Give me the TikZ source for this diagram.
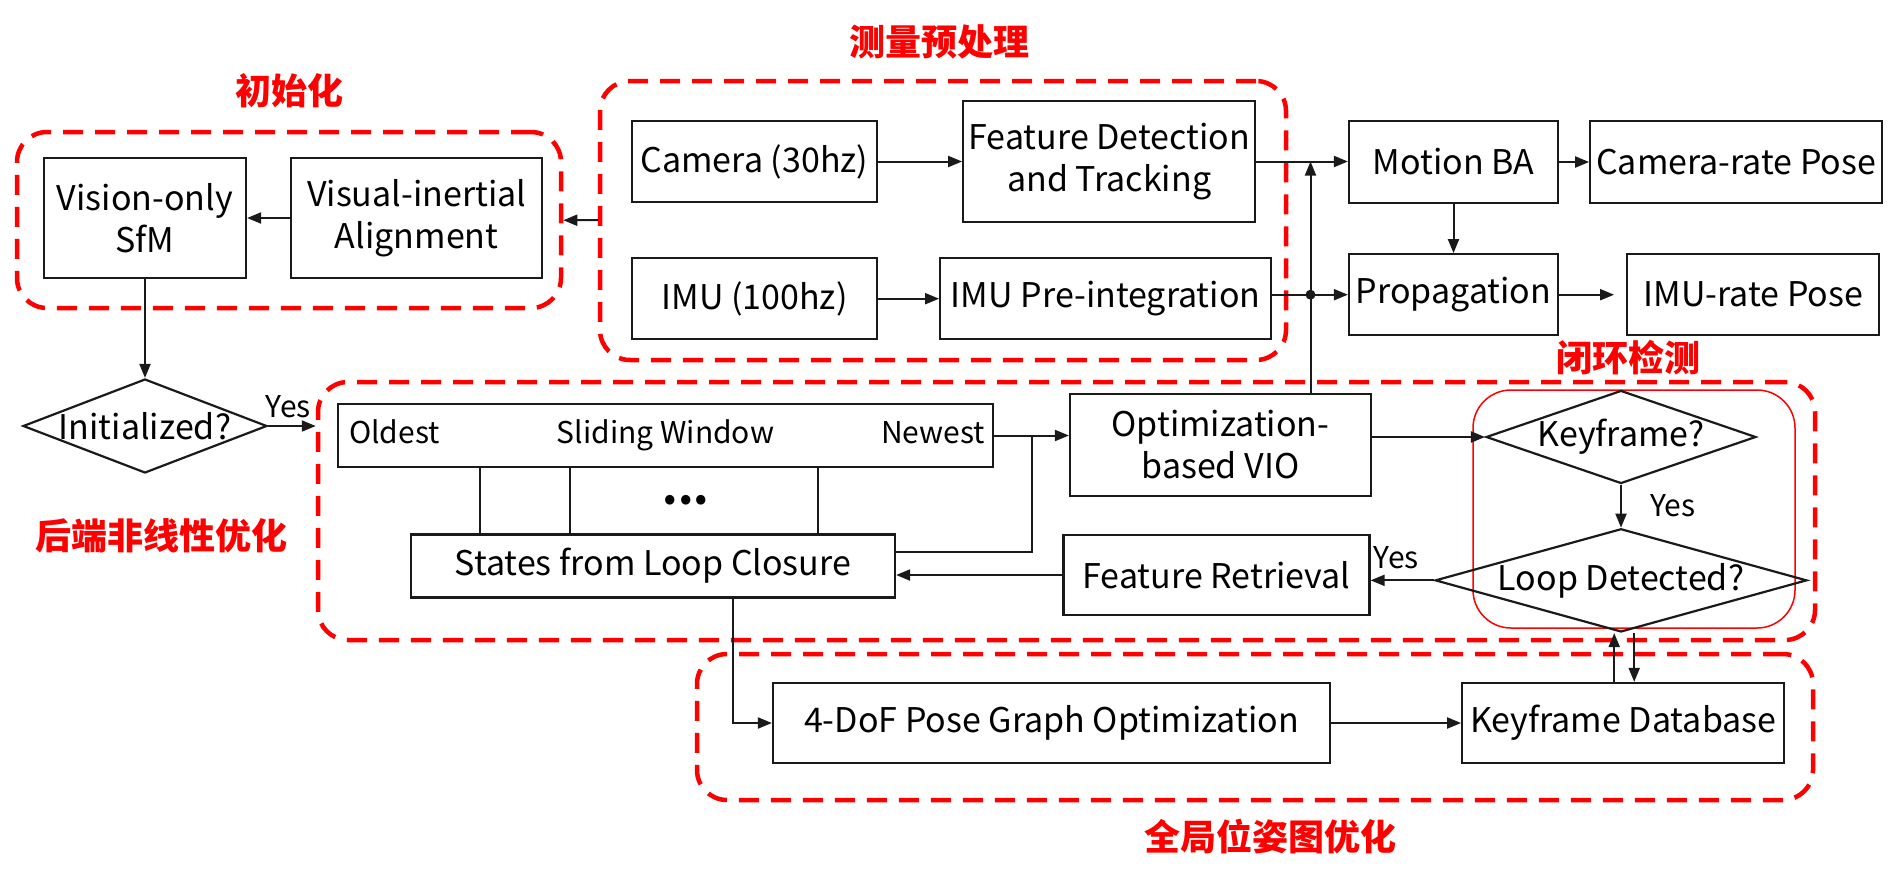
\documentclass[tikz,border=0pt]{standalone}
\usepackage{fontspec}
\usepackage{xcolor}
\usepackage{tikz}
\setmainfont{Noto Sans CJK SC}
\usetikzlibrary{shapes.geometric, arrows.meta, positioning, calc}
\definecolor{vinsred}{HTML}{FF0000}
\definecolor{vinsink}{HTML}{1A1A1A}

\begin{document}
\begin{tikzpicture}[
    x=1pt, y=-1pt,
    font=\fontsize{34}{42}\selectfont,
    box/.style={draw=vinsink, line width=2.2pt, align=center, inner sep=0pt},
    cond/.style={draw=vinsink, diamond, line width=2.2pt, inner sep=0pt},
    group/.style={draw=vinsred, line width=4.5pt, dash pattern=on 20pt off 12pt, rounded corners=30pt, inner sep=0pt},
    tag/.style={text=vinsred, inner sep=0pt, font=\fontsize{36}{40}\selectfont\bfseries},
    small/.style={font=\fontsize{30}{34}\selectfont},
    note/.style={small, inner sep=0pt},
    arr/.style={draw=vinsink, line width=2pt, -{Triangle[length=14pt,width=11pt]}},
    link/.style={draw=vinsink, line width=2pt},
  ]
  \useasboundingbox (0,0) rectangle (1892,879);

  % dashed groups
  \node[group, minimum width=544pt, minimum height=176pt] (init) at (289,220) {};
  \node[group, minimum width=686pt, minimum height=279pt] (meas) at (943,220.5) {};
  \node[group, minimum width=1497pt, minimum height=258pt] (back) at (1066.5,511) {};
  \node[group, minimum width=1116pt, minimum height=146pt] (glob) at (1255,727) {};
  \node[draw=vinsred, line width=1.5pt, rounded corners=38pt, minimum width=322pt, minimum height=238pt] (lcd) at (1634,509) {};

  \node[tag, above=22pt of init] {初始化};
  \node[tag, above=19pt of meas, xshift=-4pt] {测量预处理};
  \node[tag, left=28pt of back.west, yshift=-25pt] {后端非线性优化};
  \node[tag, above=14pt of lcd, xshift=-6pt] {闭环检测};
  \node[tag, below=17pt of glob, xshift=15pt] {全局位姿图优化};

  % initialization
  \node[box, minimum width=202pt, minimum height=120pt] (sfm) at (145,218) {Vision-only\\SfM};
  \node[box, minimum width=251pt, minimum height=120pt, right=43pt of sfm] (align) {Visual-inertial\\Alignment};
  \node[cond, aspect=2.6, minimum width=244pt, minimum height=94pt] (initq) at (145,426) {Initialized?};

  % measurement preprocessing
  \node[box, minimum width=245pt, minimum height=81pt] (cam) at (754.5,161.5) {Camera (30hz)};
  \node[box, minimum width=292pt, minimum height=121pt, right=84pt of cam] (feat) {Feature Detection\\and Tracking};
  \node[box, minimum width=245pt, minimum height=81pt, below=54pt of cam] (imu) {IMU (100hz)};
  \node[box, minimum width=331pt, minimum height=81pt, right=61pt of imu] (preint) {IMU Pre-integration};

  \node[box, minimum width=209pt, minimum height=82pt] (mba) at (1453.5,162) {Motion BA};
  \node[box, minimum width=292pt, minimum height=82pt, right=30pt of mba] (campose) {Camera-rate Pose};
  \node[box, minimum width=209pt, minimum height=81pt, below=49pt of mba] (prop) {Propagation};
  \node[box, minimum width=252pt, minimum height=81pt, right=67pt of prop] (imupose) {IMU-rate Pose};

  % back end
  \node[box, small, minimum width=655pt, minimum height=63pt] (sw) at (665.5,435.5) {Sliding Window};
  \node[note, anchor=base west] at ([xshift=12pt]sw.base west) {Oldest};
  \node[note, anchor=base east] at ([xshift=-9pt]sw.base east) {Newest};
  \node[box, minimum width=484pt, minimum height=63pt] (states) at (653,566) {States from Loop Closure};
  \node[inner sep=0pt, font=\fontsize{44}{44}\selectfont\bfseries] at (686,500) {...};
  \node[box, minimum width=301pt, minimum height=102pt] (vio) at (1220.5,445) {Optimization-\\based VIO};
  \node[box, minimum width=306pt, minimum height=80pt] (fr) at (1216.5,575) {Feature Retrieval};

  % loop detection
  \node[cond, aspect=2.9, minimum width=263pt, minimum height=91pt] (kf) at (1621,437) {Keyframe?};
  \node[cond, aspect=3.6, minimum width=352pt, minimum height=97pt, below=43pt of kf] (loop) {Loop Detected?};

  % global pose graph
  \node[box, minimum width=557pt, minimum height=80pt] (dof) at (1051.5,723) {4-DoF Pose Graph Optimization};
  \node[box, minimum width=322pt, minimum height=80pt, right=130pt of dof] (db) {Keyframe Database};

  % connectors
  \draw[arr] (meas) -- (init);
  \draw[arr] (align) -- (sfm);
  \draw[arr] (sfm) -- (initq);
  \draw[arr] (initq) -- (initq -| back.west);
  \node[note] at ([xshift=20pt,yshift=19pt]initq.east) {Yes};

  \draw[arr] (cam) -- (feat);
  \draw[arr] (imu) -- (preint);
  \draw[arr] (feat) -- (feat -| mba.west);
  \draw[arr] (preint.east |- prop) -- (prop);
  \draw[arr] (mba) -- (campose);
  \draw[arr] (mba) -- (prop);
  \draw[arr, shorten >=12pt] (prop) -- (imupose);

  \coordinate (tap) at ([xshift=90pt]vio.north);
  \draw[arr] (tap) -- (tap |- feat.east);
  \fill[vinsink] (tap |- prop) circle (5pt);

  \foreach \x in {480,570,818}
    \draw[link] (sw.south -| \x,0) -- (states.north -| \x,0);
  \draw[arr] (sw) -- (sw -| vio.west);
  \coordinate (br) at ([xshift=38pt]sw.east);
  \draw[link] (br) |- ([yshift=14pt]states.east);

  \draw[arr] (vio.east |- kf) -- (kf);
  \draw[arr] (kf) -- (loop);
  \node[note] at ([xshift=52pt,yshift=-21pt]kf.south) {Yes};
  \draw[arr] (loop.west) -- (loop.west -| fr.east);
  \node[note] at ([xshift=-38pt,yshift=23pt]loop.west) {Yes};
  \draw[arr] (fr) -- (fr -| states.east);

  \draw[arr] ([xshift=80pt]states.south) |- (dof);
  \draw[arr] (dof) -- (db);
  \draw[arr] ([xshift=-9pt]db.north) -- ([xshift=-9pt]db.north |- loop.south);
  \draw[arr] ([xshift=11pt]db.north |- loop.south) -- ([xshift=11pt]db.north);
\end{tikzpicture}
\end{document}
